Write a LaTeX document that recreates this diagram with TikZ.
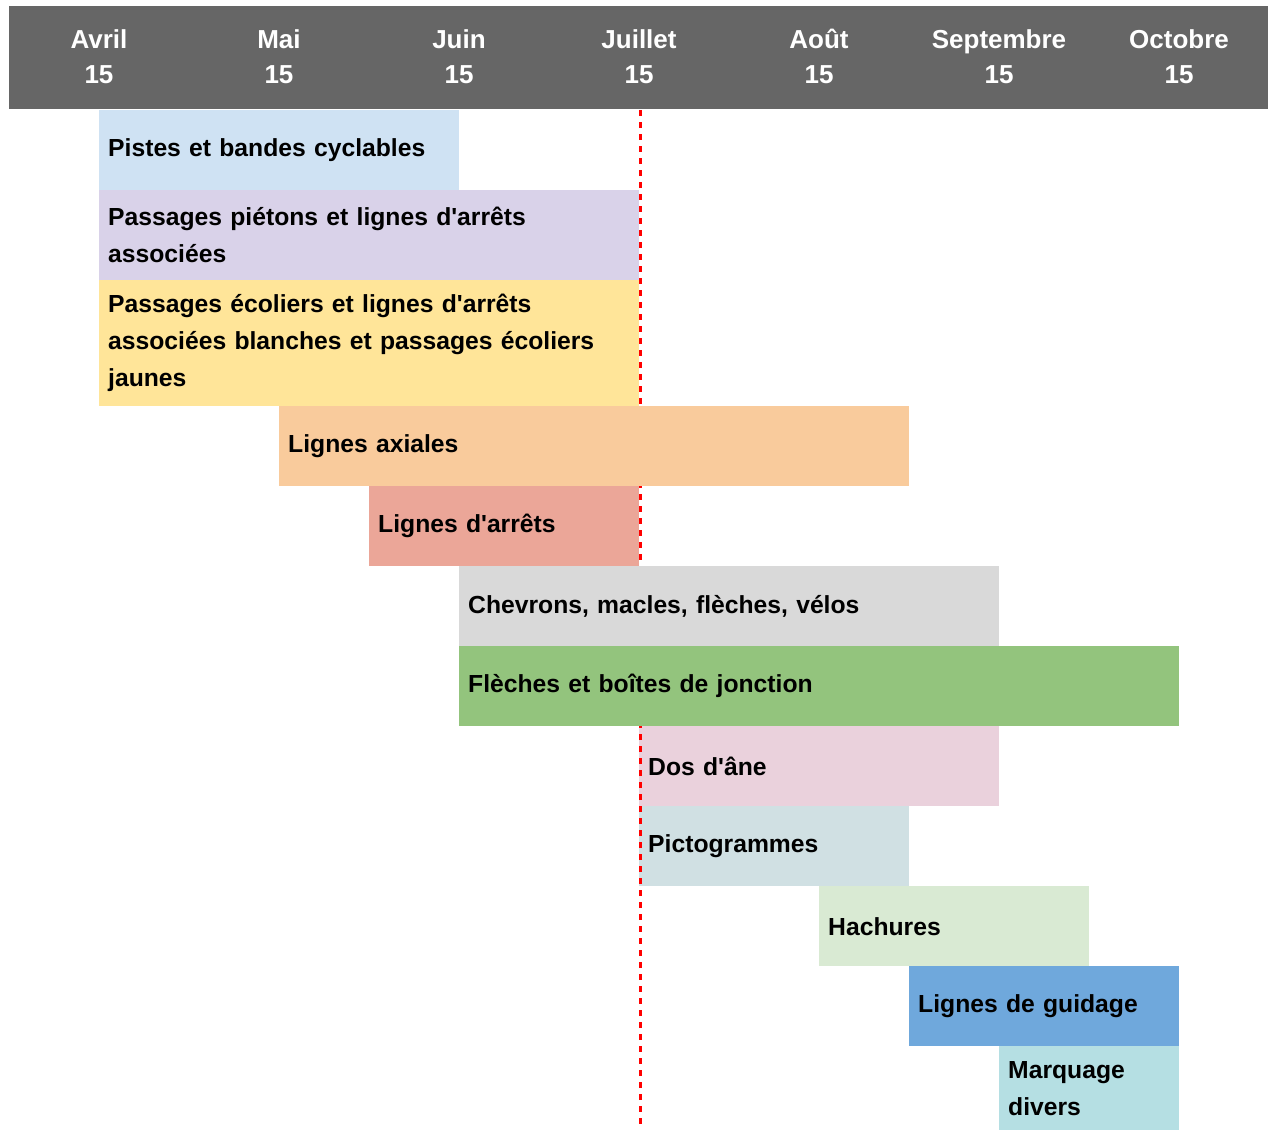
\documentclass[tikz,border=0pt]{standalone}
\usepackage{fontspec}
\setmainfont{Liberation Sans}
\usepackage{xcolor}
\usetikzlibrary{positioning}

\definecolor{entete}{HTML}{666666}
\definecolor{cyclable}{HTML}{CFE2F3}
\definecolor{pietons}{HTML}{D9D2E9}
\definecolor{ecoliers}{HTML}{FFE599}
\definecolor{axiales}{HTML}{F9CB9C}
\definecolor{arrets}{HTML}{EBA698}
\definecolor{chevrons}{HTML}{D9D9D9}
\definecolor{jonction}{HTML}{93C47D}
\definecolor{dosane}{HTML}{EAD1DC}
\definecolor{picto}{HTML}{D0E0E3}
\definecolor{hachures}{HTML}{D9EAD3}
\definecolor{guidage}{HTML}{6FA8DC}
\definecolor{divers}{HTML}{B5DFE3}

\newcommand{\ap}{\textquotesingle}

\begin{document}
\begin{tikzpicture}[
		x=1pt, y=-1pt,
		% --- Estilos ---
		mois/.style={
			text=white,
			align=center,
			font=\fontsize{26}{35}\selectfont\bfseries
		},
		barre/.style={
			anchor=north west,
			rectangle,
			inner xsep=9pt,
			inner ysep=0pt,
			align=left,
			font=\fontsize{24.7}{37}\selectfont\bfseries
		},
		limite/.style={
			draw=red,
			line width=3pt,
			dash pattern=on 6pt off 6pt
		}
		]
		\useasboundingbox (0,0) rectangle (1268,1130);
		
		% 1. Bandeau des mois
		\fill[entete] (9,6) rectangle (1268,109);
		\foreach \m [count=\i from 0] in {Avril, Mai, Juin, Juillet, Août, Septembre, Octobre}
		\node[mois] (m\i) at (99+180*\i, 56) {\vphantom{Aû}\m\\15};
		
		% 2. Barres
		\node[barre, fill=cyclable, minimum width=360pt, text width=342pt, minimum height=80pt] (pistes) at (99,110) {Pistes et bandes cyclables};
		\node[barre, fill=pietons, minimum width=540pt, text width=522pt, minimum height=90pt] (pietons) at (99,190) {Passages piétons et lignes d\ap arrêts\\associées};
		\node[barre, fill=ecoliers, minimum width=540pt, text width=522pt, minimum height=126pt] (ecoliers) at (99,280) {Passages écoliers et lignes d\ap arrêts\\associées blanches et passages écoliers\\jaunes};
		\node[barre, fill=arrets, minimum width=270pt, text width=252pt, minimum height=80pt] (arrets) at (369,486) {Lignes d\ap arrêts};
		\node[barre, fill=dosane, minimum width=360pt, text width=342pt, minimum height=80pt] (dosane) at (639,726) {Dos d\ap âne};
		\node[barre, fill=picto, minimum width=270pt, text width=252pt, minimum height=80pt] (picto) at (639,806) {Pictogrammes};
		\node[barre, fill=hachures, minimum width=270pt, text width=252pt, minimum height=80pt] (hachures) at (819,886) {Hachures};
		\node[barre, fill=guidage, minimum width=270pt, text width=252pt, minimum height=80pt] (guidage) at (909,966) {Lignes de guidage};
		\node[barre, fill=divers, minimum width=180pt, text width=162pt, minimum height=84pt] (divers) at (999,1046) {Marquage\\divers};
		
		% 3. Limite du 15 juillet
		\coordinate (haut) at (640,110);
		\coordinate (bas) at (640,1127);
		\draw[limite] (haut) -- (bas);
		
		% Les barres qui passent par-dessus la limite
		\node[barre, fill=axiales, minimum width=630pt, text width=612pt, minimum height=80pt] (axiales) at (279,406) {Lignes axiales};
		\node[barre, fill=chevrons, minimum width=540pt, text width=522pt, minimum height=80pt] (chevrons) at (459,566) {Chevrons, macles, flèches, vélos};
		\node[barre, fill=jonction, minimum width=720pt, text width=702pt, minimum height=80pt] (jonction) at (459,646) {Flèches et boîtes de jonction};
		
\end{tikzpicture}
\end{document}
